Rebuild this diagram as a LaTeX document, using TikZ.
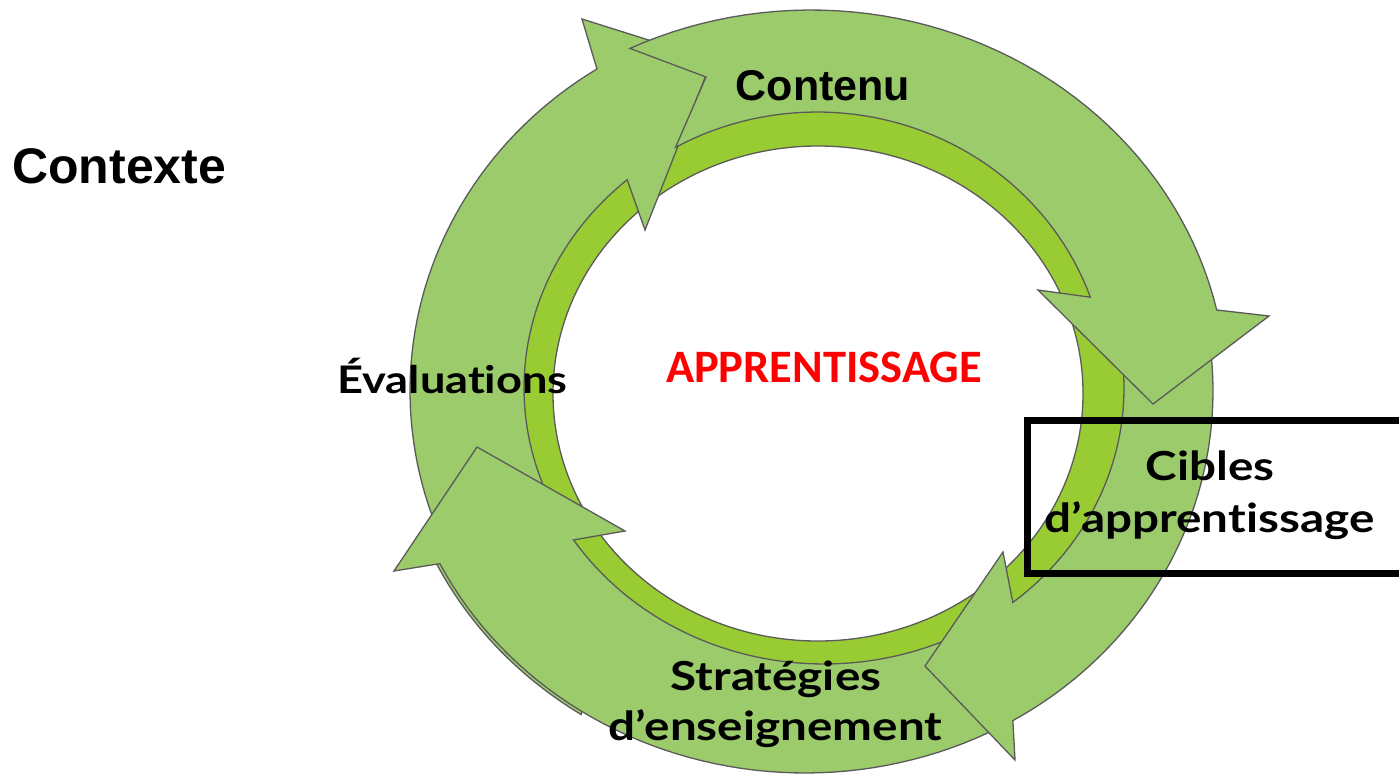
\documentclass[tikz,border=0pt]{standalone}
\usepackage{fontspec}
\setmainfont{Liberation Sans}
\newfontfamily\latof[FakeStretch=1.19, Ligatures=NoCommon]{Lato}
\newfontfamily\carl{Carlito}
\definecolor{arrowgreen}{RGB}{155,203,107}
\definecolor{ringgreen}{RGB}{153,204,51}
\definecolor{edgegray}{RGB}{90,90,90}
\begin{document}
\begin{tikzpicture}[x=1pt,y=-1pt,
  arrowshape/.style={fill=arrowgreen, draw=edgegray, line width=1.3pt, line join=miter},
  lbl/.style={inner sep=0pt, anchor=base},
  cyc/.style={font=\latof\fontsize{40}{48}\selectfont\bfseries},
  pl/.style={samples=50}]
\useasboundingbox (0,0) rectangle (1399,774);
% bright inner ring
\path[fill=ringgreen, even odd rule] (818,390) ellipse [x radius=330pt, y radius=300pt]
  (818,393.5) ellipse [x radius=265pt, y radius=247.5pt];
\draw[edgegray, line width=1.3pt] (818,393.5) ellipse [x radius=265pt, y radius=247.5pt];
% Evaluations arrow
\path[arrowshape] plot[pl, domain=204.3:122.3] ({811.5+401.5*cos(\x)},{391-381*sin(\x)})
  -- (582,19) -- (712,60) -- (645,230)
  -- plot[pl, domain=131:209] ({824+300*cos(\x)},{388-276*sin(\x)})
  -- (490,505) -- cycle;
% Evaluations tail sliver (under Strategies)
\path[arrowshape] plot[pl, domain=205:237] ({805+411*cos(\x)},{395-381*sin(\x)})
  -- (600,640) -- cycle;
% Strategies arrow
\path[arrowshape] plot[pl, domain=298.5:206.5] ({805+408*cos(\x)},{395-378*sin(\x)})
  -- (394,571) -- (477,447) -- (625,531)
  -- plot[pl, domain=213.4:302.5] ({824+300*cos(\x)},{388-276*sin(\x)})
  -- (965,668) -- cycle;
% Cibles arrow
\path[arrowshape] plot[pl, domain=7.7:-59.9] ({811.5+401.5*cos(\x)},{391-381*sin(\x)})
  -- (1015,760) -- (925,666) -- (1003,552)
  -- plot[pl, domain=-51:9] ({824+300*cos(\x)},{388-276*sin(\x)})
  -- (1160,375) -- cycle;
% Contenu arrow
\path[arrowshape] plot[pl, domain=115.8:12.76] ({811+416*cos(\x)},{395-385*sin(\x)})
  -- (1269,316) -- (1153,404) -- (1038,290)
  -- plot[pl, domain=19.5:119.2] ({817+290*cos(\x)},{390-278*sin(\x)})
  -- (706,77) -- cycle;
% box
\draw[line width=7pt] (1027.5,420) rectangle (1420,573.5);
% texts
\node[lbl, anchor=base west, font=\fontsize{50}{60}\selectfont\bfseries] (ctx) at (12,183) {Contexte};
\node[lbl, font=\fontsize{43}{50}\selectfont\bfseries] (cont) at (823,100) {Contenu};
\node[lbl, font=\carl\fontsize{46.5}{55}\selectfont\bfseries, text=red] (app) at (824,382) {APPRENTISSAGE};
\node[lbl, font=\latof\fontsize{38}{44}\selectfont\bfseries] (eva) at (452.5,393) {Évaluations};
\node[lbl, cyc] (cib1) at (1210,480) {Cibles};
\node[lbl, cyc] (cib2) at (1209.5,532) {d’apprentissage};
\node[lbl, cyc] (str1) at (776,690) {Stratégies};
\node[lbl, cyc] (str2) at (775.5,740) {d’enseignement};
\end{tikzpicture}
\end{document}
